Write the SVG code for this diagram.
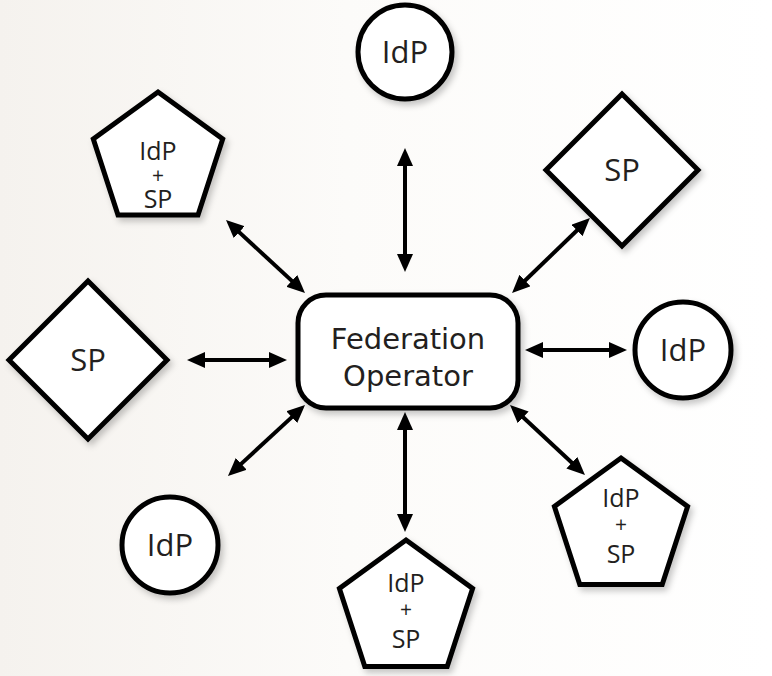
<svg xmlns="http://www.w3.org/2000/svg" width="772" height="676" viewBox="0 0 772 676">
  <defs>
    <linearGradient id="bg" x1="0" y1="0" x2="1" y2="0">
      <stop offset="0" stop-color="#f5f2ee"/>
      <stop offset="0.45" stop-color="#fcfbf9"/>
      <stop offset="1" stop-color="#ffffff"/>
    </linearGradient>
    <filter id="sh" x="-20%" y="-20%" width="150%" height="150%">
      <feDropShadow dx="3" dy="4" stdDeviation="3" flood-color="#000" flood-opacity="0.22"/>
    </filter>
    <marker id="ah" viewBox="0 0 18 16" refX="6" refY="8" markerWidth="18" markerHeight="16" markerUnits="userSpaceOnUse" orient="auto-start-reverse">
      <path d="M0,0 L18,8 L0,16 z" fill="#000"/>
    </marker>
    <style>
      .shape { fill: #ffffff; stroke: #000; stroke-width: 5; stroke-linejoin: miter; filter: url(#sh); }
      .lbl { font-family: "Open Sans", "Noto Sans", sans-serif; fill: #231f20; text-anchor: middle; }
      .big { font-size: 31px; }
      .small { font-size: 25px; }
      .plus { font-size: 21px; }
      .fo { font-family: "DejaVu Sans", "Liberation Sans", sans-serif; font-size: 29px; fill: #231f20; text-anchor: middle; }
      .conn { stroke: #000; stroke-width: 4; fill: none; marker-start: url(#ah); marker-end: url(#ah); }
    </style>
  </defs>
  <rect x="0" y="0" width="772" height="676" fill="url(#bg)"/>

  <g id="connectors">
    <line class="conn" x1="405" y1="160" x2="405" y2="260"/>
    <line class="conn" x1="199" y1="360" x2="275" y2="360"/>
    <line class="conn" x1="537" y1="350" x2="615" y2="350"/>
    <line class="conn" x1="234.8" y1="228.1" x2="296.2" y2="284.9"/>
    <line class="conn" x1="581.3" y1="226.3" x2="520.7" y2="284.7"/>
    <line class="conn" x1="296.2" y1="413.1" x2="236.8" y2="467.9"/>
    <line class="conn" x1="405" y1="424" x2="405" y2="520"/>
    <line class="conn" x1="518.8" y1="413.2" x2="576.2" y2="466.8"/>
  </g>

  <g id="federation-operator">
    <rect class="shape" x="298" y="295" width="220" height="113" rx="28"/>
    <text class="fo" x="408" y="349">Federation</text>
    <text class="fo" x="408" y="386">Operator</text>
  </g>

  <g id="idp-top">
    <circle class="shape" cx="405" cy="52" r="47"/>
    <text class="lbl big" x="405" y="63">IdP</text>
  </g>

  <g id="idp-sp-topleft">
    <polygon class="shape" points="158,92 222.7,139 198,215 118,215 93.3,139"/>
    <text class="lbl small" x="158" y="160">IdP</text>
    <text class="lbl plus" x="158" y="183">+</text>
    <text class="lbl small" x="158" y="208">SP</text>
  </g>

  <g id="sp-topright">
    <polygon class="shape" points="622,94 698,170 622,246 546,170"/>
    <text class="lbl big" x="622" y="181">SP</text>
  </g>

  <g id="sp-left">
    <polygon class="shape" points="88,281 167,360 88,439 9,360"/>
    <text class="lbl big" x="88" y="371">SP</text>
  </g>

  <g id="idp-right">
    <circle class="shape" cx="683" cy="350" r="48"/>
    <text class="lbl big" x="683" y="361">IdP</text>
  </g>

  <g id="idp-bottomleft">
    <circle class="shape" cx="170" cy="545" r="48"/>
    <text class="lbl big" x="170" y="556">IdP</text>
  </g>

  <g id="idp-sp-bottom">
    <polygon class="shape" points="406,540 472.6,588.4 447.2,666.6 364.8,666.6 339.4,588.4"/>
    <text class="lbl small" x="406" y="592">IdP</text>
    <text class="lbl plus" x="406" y="617">+</text>
    <text class="lbl small" x="406" y="648">SP</text>
  </g>

  <g id="idp-sp-bottomright">
    <polygon class="shape" points="621,458 687.6,506.4 662.2,584.6 579.8,584.6 554.4,506.4"/>
    <text class="lbl small" x="621" y="507">IdP</text>
    <text class="lbl plus" x="621" y="532">+</text>
    <text class="lbl small" x="621" y="563">SP</text>
  </g>
</svg>
